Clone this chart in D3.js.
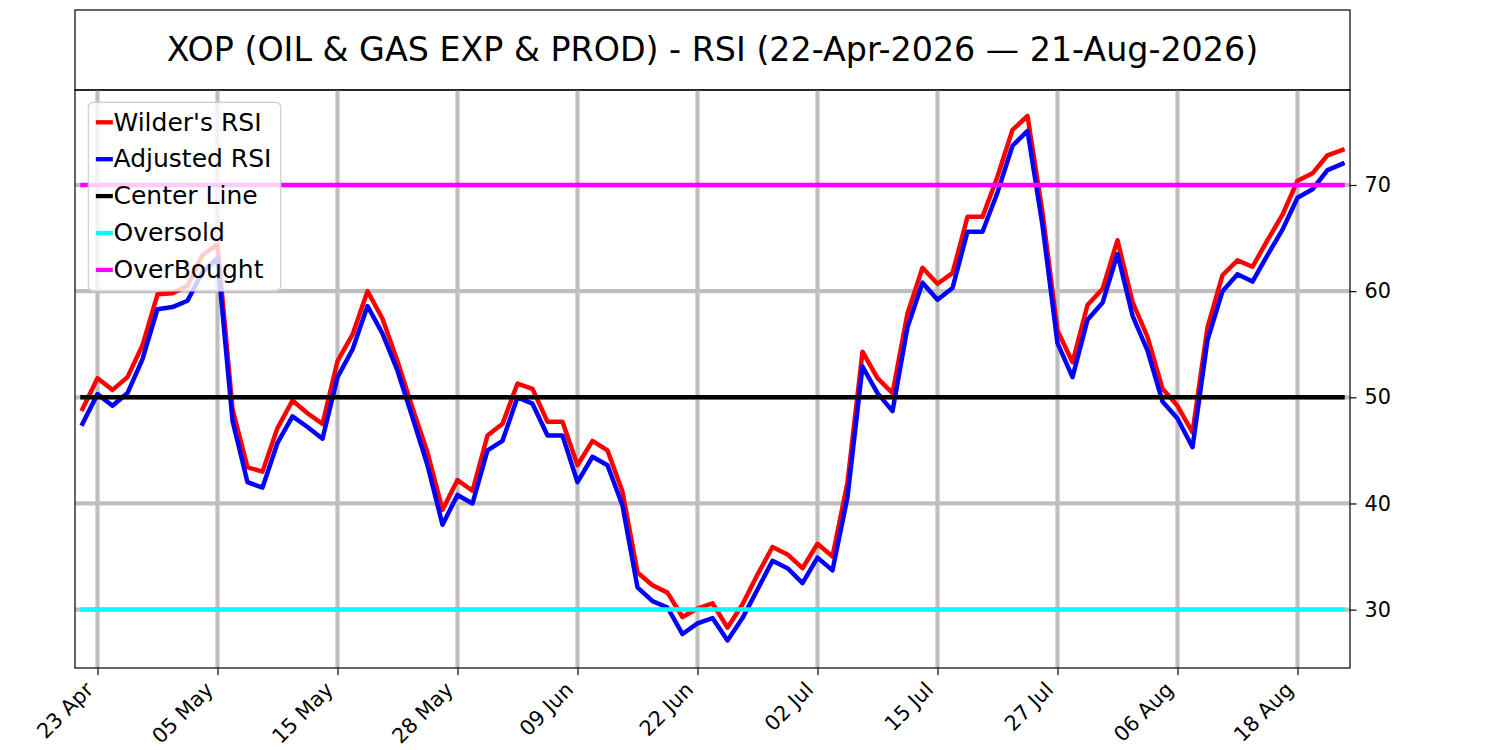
<!DOCTYPE html>
<html><head><meta charset="utf-8">
<script src="https://cdn.jsdelivr.net/npm/d3@7"></script>
<style>
body{margin:0;background:#fff}
svg{display:block}
text{font-family:"DejaVu Sans",sans-serif;fill:#000}
</style>
</head><body>
<svg id="chart" width="1500" height="750"></svg>
<script>
// ---------- DATA ----------
const dates = [
"2026-04-22","2026-04-23","2026-04-24","2026-04-27","2026-04-28","2026-04-29","2026-04-30",
"2026-05-01","2026-05-04","2026-05-05","2026-05-06","2026-05-07","2026-05-08","2026-05-11","2026-05-12","2026-05-13","2026-05-14","2026-05-15",
"2026-05-18","2026-05-19","2026-05-20","2026-05-21","2026-05-22","2026-05-26","2026-05-27","2026-05-28","2026-05-29",
"2026-06-01","2026-06-02","2026-06-03","2026-06-04","2026-06-05","2026-06-08","2026-06-09","2026-06-10","2026-06-11","2026-06-12",
"2026-06-15","2026-06-16","2026-06-17","2026-06-18","2026-06-22","2026-06-23","2026-06-24","2026-06-25","2026-06-26","2026-06-29","2026-06-30",
"2026-07-01","2026-07-02","2026-07-06","2026-07-07","2026-07-08","2026-07-09","2026-07-10","2026-07-13","2026-07-14","2026-07-15",
"2026-07-16","2026-07-17","2026-07-20","2026-07-21","2026-07-22","2026-07-23","2026-07-24","2026-07-27","2026-07-28","2026-07-29","2026-07-30","2026-07-31",
"2026-08-03","2026-08-04","2026-08-05","2026-08-06","2026-08-07","2026-08-10","2026-08-11","2026-08-12","2026-08-13","2026-08-14","2026-08-17","2026-08-18",
"2026-08-19","2026-08-20","2026-08-21"
];
const wilderRSI = [
48.9,51.8,50.7,51.9,54.9,59.7,59.8,60.5,63.4,64.4,
48.9,43.4,43.0,47.1,49.7,48.5,47.5,53.4,55.9,60.0,
57.4,53.4,49.0,44.8,39.4,42.2,41.2,46.4,47.5,51.3,
50.8,47.7,47.7,43.6,45.9,45.0,41.1,33.5,32.3,31.6,
29.3,30.1,30.6,28.3,30.5,33.3,35.9,35.2,33.9,36.2,
35.0,42.0,54.3,51.8,50.4,57.9,62.2,60.7,61.7,67.0,
67.0,70.8,75.2,76.5,67.4,56.3,53.3,58.7,60.2,64.8,
59.0,55.7,50.8,49.2,46.7,56.6,61.5,62.9,62.3,64.8,
67.2,70.4,71.1,72.8,73.3
];
const adjustedRSI = [
47.5,50.3,49.2,50.4,53.6,58.3,58.5,59.1,61.8,63.1,
47.8,42.0,41.5,45.7,48.2,47.2,46.1,51.9,54.5,58.6,
56.0,52.5,48.1,43.6,38.0,40.8,40.0,45.0,45.9,50.0,
49.4,46.4,46.4,42.0,44.4,43.6,39.8,32.1,30.8,30.2,
27.7,28.7,29.2,27.1,29.2,31.9,34.6,33.9,32.5,34.9,
33.7,40.6,52.9,50.4,48.7,56.6,60.8,59.2,60.3,65.6,
65.6,69.3,73.7,75.1,66.2,55.1,51.9,57.3,58.9,63.5,
57.7,54.4,49.6,48.0,45.3,55.4,60.0,61.6,60.9,63.4,
65.8,68.8,69.6,71.4,72.0
];
const levelNames = ["Center Line","Oversold","OverBought"];
const levelValues = [50,30,70];
const yTickValues = [30,40,50,60,70];
const xTickDates = ["2026-04-23","2026-05-05","2026-05-15","2026-05-28","2026-06-09","2026-06-22","2026-07-02","2026-07-15","2026-07-27","2026-08-06","2026-08-18"];
const seriesNames = ["Wilder's RSI","Adjusted RSI"];
const titleText = "XOP (OIL & GAS EXP & PROD) - RSI (22-Apr-2026 \u2014 21-Aug-2026)";

// ---------- STYLE / LAYOUT ----------
const seriesColors = ["#ff0000","#0000ff"];
const levelColors = ["#000000","#00ffff","#ff00ff"];
const L = 75, R = 1350, T = 90, B = 668;
const svg = d3.select("#chart");

const x = d3.scaleLinear().domain([-0.5, dates.length - 0.5]).range([L, R]);
const y = d3.scaleLinear().domain([24.5, 78.95]).range([B, T]);
const parse = d3.timeParse("%Y-%m-%d");
const fmt = d3.timeFormat("%d %b");
const xTickIdx = xTickDates.map(d => dates.indexOf(d));

// title box
svg.append("rect").attr("x", L).attr("y", 10).attr("width", R - L).attr("height", T - 10)
  .attr("fill", "#fff").attr("stroke", "#000").attr("stroke-width", 1.2);
svg.append("text").attr("x", (L + R) / 2).attr("y", 61).attr("text-anchor", "middle")
  .style("font-size", "33.3px").text(titleText);

// clip
svg.append("defs").append("clipPath").attr("id", "clip")
  .append("rect").attr("x", L).attr("y", T).attr("width", R - L).attr("height", B - T);

const plot = svg.append("g").attr("clip-path", "url(#clip)");

// grid
plot.selectAll(".vg").data(xTickIdx).enter().append("line")
  .attr("x1", d => x(d)).attr("x2", d => x(d)).attr("y1", T).attr("y2", B)
  .attr("stroke", "#bfbfbf").attr("stroke-width", 4.2);
plot.selectAll(".hg").data(yTickValues).enter().append("line")
  .attr("x1", L).attr("x2", R).attr("y1", d => y(d)).attr("y2", d => y(d))
  .attr("stroke", "#bfbfbf").attr("stroke-width", 4.2);

// series
const line = d3.line().x((d, i) => x(i)).y(d => y(d));
[wilderRSI, adjustedRSI].forEach((s, k) => {
  plot.append("path").datum(s).attr("d", line).attr("fill", "none")
    .attr("stroke", seriesColors[k]).attr("stroke-width", 4.5)
    .attr("stroke-linejoin", "round").attr("stroke-linecap", "square");
});

// level lines
levelValues.forEach((v, k) => {
  plot.append("line").attr("x1", x(0)).attr("x2", x(dates.length - 1))
    .attr("y1", y(v)).attr("y2", y(v))
    .attr("stroke", levelColors[k]).attr("stroke-width", 4.5).attr("stroke-linecap", "square");
});

// spines
svg.append("rect").attr("x", L).attr("y", T).attr("width", R - L).attr("height", B - T)
  .attr("fill", "none").attr("stroke", "#000").attr("stroke-width", 1.2);

// y axis (right)
const yAxis = svg.append("g").attr("transform", `translate(${R},0)`)
  .call(d3.axisRight(y).tickValues(yTickValues).tickSize(6.5).tickPadding(8).tickFormat(d3.format("d")));
yAxis.select(".domain").remove();
yAxis.selectAll(".tick line").attr("stroke", "#000").attr("stroke-width", 1.2);
yAxis.selectAll(".tick text").style("font-size", "20.8px").attr("font-family", "DejaVu Sans");

// x axis (bottom)
const xAxis = svg.append("g").attr("transform", `translate(0,${B})`)
  .call(d3.axisBottom(x).tickValues(xTickIdx).tickSize(7).tickFormat(i => fmt(parse(dates[i]))));
xAxis.select(".domain").remove();
xAxis.selectAll(".tick line").attr("stroke", "#000").attr("stroke-width", 1.2);
xAxis.selectAll(".tick text")
  .style("font-size", "20.8px").attr("font-family", "DejaVu Sans")
  .attr("text-anchor", "end").attr("dy", null).attr("y", null)
  .attr("transform", "translate(-3.5,23) rotate(-45)");

// legend
const legNames = seriesNames.concat(levelNames);
const legColors = seriesColors.concat(levelColors);
const leg = svg.append("g");
leg.append("rect").attr("x", 88.3).attr("y", 102.3).attr("width", 192.4).attr("height", 188.7)
  .attr("rx", 5).attr("fill", "#fff").attr("fill-opacity", 0.8)
  .attr("stroke", "#cccccc").attr("stroke-width", 1.2);
legNames.forEach((n, k) => {
  const cy = 122.3 + 36.9 * k;
  leg.append("line").attr("x1", 98).attr("x2", 110.7).attr("y1", cy).attr("y2", cy)
    .attr("stroke", legColors[k]).attr("stroke-width", 4.3).attr("stroke-linecap", "square");
  leg.append("text").attr("x", 113.5).attr("y", cy + 8.2).style("font-size", "25px").text(n);
});
</script>
</body></html>
